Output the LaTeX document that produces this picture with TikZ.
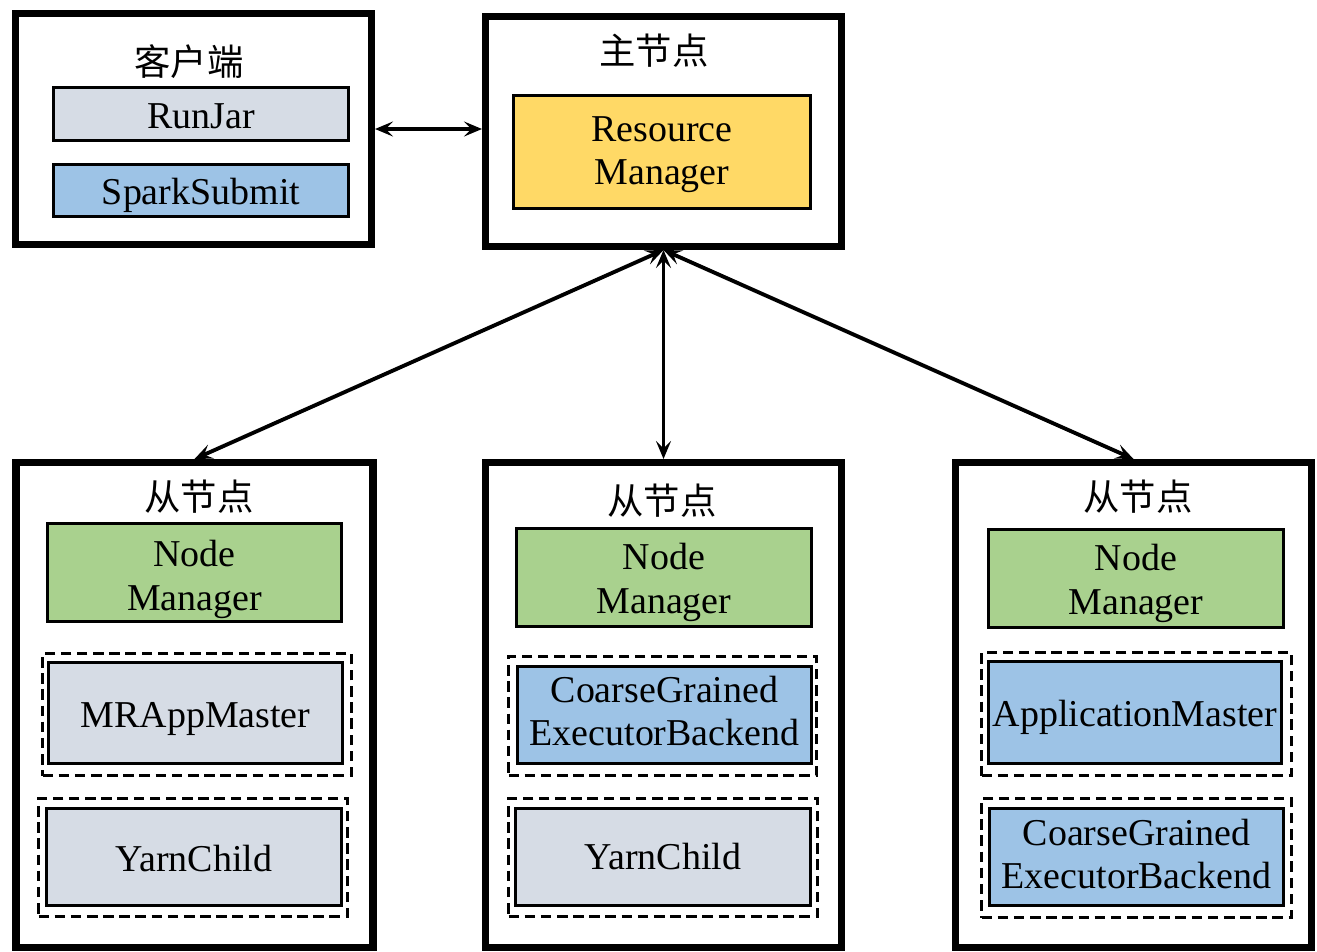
\documentclass[tikz,border=0pt]{standalone}
\usepackage{fontspec}
\setmainfont{Liberation Serif}
\newfontfamily\cjk{Noto Sans CJK SC}
\usetikzlibrary{arrows.meta}
\definecolor{cgray}{HTML}{D6DCE5}
\definecolor{cblue}{HTML}{9DC3E6}
\definecolor{cyellow}{HTML}{FFD966}
\definecolor{cgreen}{HTML}{A9D18E}
\newcommand{\twolines}[2]{\begin{tabular}[t]{@{}c@{}}#1\\#2\end{tabular}}
\begin{document}
\begin{tikzpicture}[x=0.02cm,y=-0.02cm,
  sz/.style 2 args={minimum width=#1*0.02cm, minimum height=#2*0.02cm},
  outerbox/.style={draw, line width=4pt, inner sep=0pt},
  inbox/.style={draw, line width=1.7pt, inner sep=0pt},
  boxtext/.style={font=\fontsize{21.6}{25}\selectfont, inner sep=0pt, anchor=base},
  dbox/.style={draw, line width=2pt, dash pattern=on 6pt off 3.2pt, inner sep=0pt},
  titletext/.style={font=\cjk\fontsize{20.7}{25}\selectfont, inner sep=0pt},
  conn/.style={line width=2.2pt, {Stealth[length=0.36cm,width=0.3cm,inset=0.15cm]}-{Stealth[length=0.36cm,width=0.3cm,inset=0.15cm]}},
]
\useasboundingbox (0,0) rectangle (1317,951);

% outer boxes
\node[outerbox, sz={356}{231}] (client) at (193.5,129) {};
\node[outerbox, sz={356}{230}] (master) at (663.5,131.5) {};
\node[outerbox, sz={357}{485}] (s1) at (194.5,705) {};
\node[outerbox, sz={356}{485}] (s2) at (663.5,705) {};
\node[outerbox, sz={356}{485}] (s3) at (1133.5,705) {};

% titles
\node[titletext] (tc) at (189,62) {客户端};
\node[titletext] (tm) at (654,51) {主节点};
\node[titletext] (t1) at (199,497) {从节点};
\node[titletext] (t2) at (662,501) {从节点};
\node[titletext] (t3) at (1138,497) {从节点};

% client
\node[inbox, fill=cgray, sz={295}{53}] (runjar) at (201,114) {};
\node[boxtext] (runjarT) at ([yshift=-0.28cm]runjar.center) {RunJar};
\node[inbox, fill=cblue, sz={295}{52}] (spark) at (201,190.5) {};
\node[boxtext] (sparkT) at ([yshift=-0.28cm]spark.center) {SparkSubmit};

% master
\node[inbox, fill=cyellow, sz={297}{113}] (rm) at (662,152) {};
\node[boxtext] (rmT) at ([yshift=0.22cm]rm.center) {\twolines{Resource}{Manager}};

% slave 1
\node[inbox, fill=cgreen, sz={294}{98}] (nm1) at (194.5,572.5) {};
\node[boxtext] (nm1T) at ([yshift=0.12cm]nm1.center) {\twolines{Node}{Manager}};
\node[dbox, sz={309}{122}] (d11) at (197,714.5) {};
\node[inbox, fill=cgray, sz={294}{101}] (mr) at (195.5,713) {};
\node[boxtext] (mrT) at ([yshift=-0.28cm]mr.center) {MRAppMaster};
\node[dbox, sz={309}{118}] (d12) at (193,857.5) {};
\node[inbox, fill=cgray, sz={295}{97}] (yc1) at (194,857) {};
\node[boxtext] (yc1T) at ([yshift=-0.28cm]yc1.center) {YarnChild};

% slave 2
\node[inbox, fill=cgreen, sz={295}{98}] (nm2) at (664,577.5) {};
\node[boxtext] (nm2T) at ([yshift=0.16cm]nm2.center) {\twolines{Node}{Manager}};
\node[dbox, sz={308}{119}] (d21) at (662.5,716) {};
\node[inbox, fill=cblue, sz={294}{97}] (cg2) at (664.5,715) {};
\node[boxtext] (cg2T) at ([yshift=0.26cm]cg2.center) {\twolines{CoarseGrained}{ExecutorBackend}};
\node[dbox, sz={309}{118}] (d22) at (663,857.5) {};
\node[inbox, fill=cgray, sz={295}{97}] (yc2) at (663,857) {};
\node[boxtext] (yc2T) at ([yshift=-0.24cm]yc2.center) {YarnChild};

% slave 3
\node[inbox, fill=cgreen, sz={295}{98}] (nm3) at (1136,578.5) {};
\node[boxtext] (nm3T) at ([yshift=0.16cm]nm3.center) {\twolines{Node}{Manager}};
\node[dbox, sz={310}{123}] (d31) at (1136.5,714) {};
\node[inbox, fill=cblue, sz={293}{102}] (am) at (1135,712.5) {};
\node[boxtext] (amT) at ([yshift=-0.28cm]am.center) {ApplicationMaster};
\node[dbox, sz={310}{119}] (d32) at (1136.5,858) {};
\node[inbox, fill=cblue, sz={294}{97}] (cg3) at (1136.5,857) {};
\node[boxtext] (cg3T) at ([yshift=0.24cm]cg3.center) {\twolines{CoarseGrained}{ExecutorBackend}};

% connectors
\draw[conn] (client.east) -- (master.west |- client.east);
\draw[conn] (master.south) -- (s1.north);
\draw[conn] (master.south) -- (s2.north);
\draw[conn] (master.south) -- (s3.north);
\end{tikzpicture}
\end{document}
